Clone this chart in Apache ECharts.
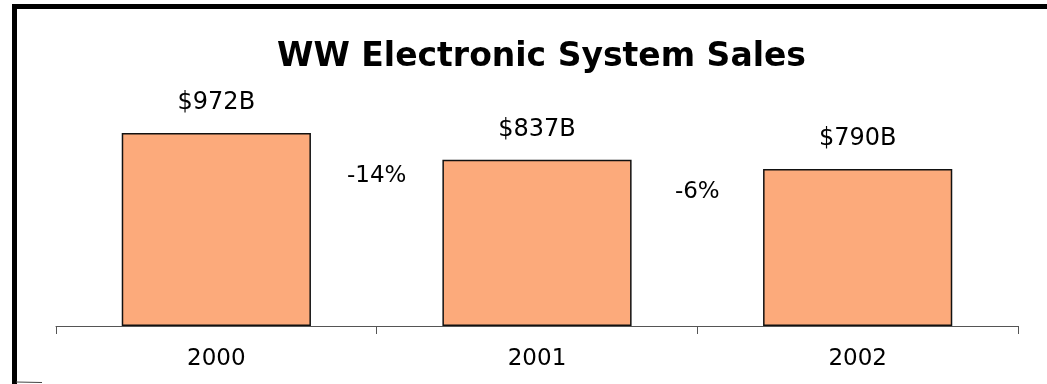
<!DOCTYPE html>
<html>
<head>
<meta charset="utf-8">
<script src="https://cdn.jsdelivr.net/npm/echarts@6/dist/echarts.min.js"></script>
<style>
html,body{margin:0;padding:0;background:#fff;}
#chart{width:1047px;height:384px;}
</style>
</head>
<body>
<div id="chart"></div>
<script>
const titleText = 'WW Electronic System Sales';
const categories = ['2000', '2001', '2002'];
const sales = [972, 837, 790];
const salesLabels = ['$972B', '$837B', '$790B'];
const changeLabels = ['-14%', '-6%'];
const changeLabelY = [176, 192];

const chart = echarts.init(document.getElementById('chart'));
const font = '"DejaVu Sans", "Liberation Sans", Arial, sans-serif';

chart.setOption({
  animation: false,
  backgroundColor: '#fff',
  title: {
    text: titleText,
    left: 272,
    top: 36,
    textStyle: { fontFamily: font, fontSize: 33, fontWeight: 'bold', color: '#000' }
  },
  grid: { left: 56, right: 29, top: 127.4, bottom: 58 },
  xAxis: {
    type: 'category',
    data: categories,
    axisLine: { lineStyle: { color: '#555', width: 1 } },
    axisTick: { show: true, length: 8, lineStyle: { color: '#555' } },
    axisLabel: { fontFamily: font, fontSize: 23, color: '#000', margin: 22 }
  },
  yAxis: {
    type: 'value',
    min: 0,
    max: 1000,
    show: false,
    splitLine: { show: false }
  },
  series: [{
    type: 'bar',
    data: sales,
    barWidth: '59%',
    itemStyle: { color: '#FCAA7B', borderColor: '#111', borderWidth: 1.5 },
    label: {
      show: true,
      position: 'top',
      distance: 18,
      fontFamily: font,
      fontSize: 24,
      color: '#000',
      formatter: p => salesLabels[p.dataIndex]
    }
  }]
});

function addGraphics() {
  const texts = changeLabels.map((t, i) => {
    const x0 = chart.convertToPixel({ xAxisIndex: 0 }, categories[i]);
    const x1 = chart.convertToPixel({ xAxisIndex: 0 }, categories[i + 1]);
    return {
      type: 'text',
      x: (x0 + x1) / 2,
      y: changeLabelY[i],
      style: {
        text: t,
        fontFamily: font,
        fontSize: 23,
        fill: '#000',
        align: 'center',
        verticalAlign: 'middle'
      }
    };
  });
  chart.setOption({
    graphic: [
      { type: 'rect', shape: { x: 12, y: 4, width: 1035, height: 5 }, style: { fill: '#000' } },
      { type: 'rect', shape: { x: 12, y: 4, width: 5, height: 380 }, style: { fill: '#000' } },
      { type: 'line', shape: { x1: 16, y1: 382, x2: 42, y2: 382.5 }, style: { stroke: '#444', lineWidth: 1 } }
    ].concat(texts)
  });
}
addGraphics();
</script>
</body>
</html>
